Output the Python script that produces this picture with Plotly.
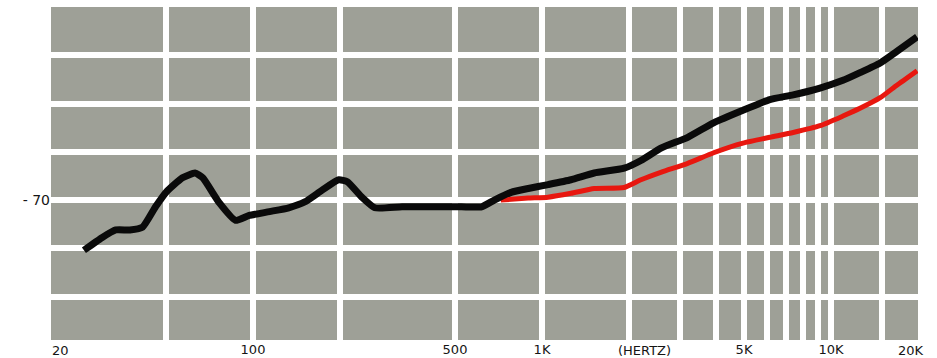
import plotly.graph_objects as go

# Black curve (frequency in Hz, level in dB)
black_freq = [26, 30, 33.5, 37.5, 41.5, 46, 50, 57, 63, 67, 76.5, 87, 97, 114, 133, 151, 173, 198, 212, 238, 264, 328, 426, 526, 618, 684, 782, 896, 1050, 1260, 1516, 1924, 2200, 2590, 3194, 3925, 4960, 6140, 7400, 9160, 11000, 12600, 14800, 16900, 19860]
black_db = [-75.2, -73.9, -73.1, -73.1, -72.8, -70.7, -69.2, -67.7, -67.2, -67.7, -70.3, -72.1, -71.6, -71.2, -70.8, -70.2, -69.0, -67.9, -68.1, -69.7, -70.8, -70.7, -70.7, -70.7, -70.7, -70.0, -69.2, -68.8, -68.4, -67.9, -67.2, -66.7, -65.9, -64.6, -63.5, -62.0, -60.7, -59.6, -59.1, -58.4, -57.6, -56.8, -55.8, -54.6, -53.1]

# Red curve
red_freq = [720, 896, 1050, 1260, 1516, 1924, 2200, 2590, 3194, 3925, 4960, 6140, 7400, 9160, 11000, 12600, 14800, 16900, 19860]
red_db = [-70.0, -69.8, -69.7, -69.3, -68.8, -68.7, -67.9, -67.1, -66.2, -65.1, -64.1, -63.5, -63.0, -62.3, -61.3, -60.5, -59.4, -58.1, -56.6]

# Axis grid / ticks (interior grid lines; edge labels added separately)
x_tickvals = [50, 100, 200, 500, 1000, 2000, 3000, 4000, 5000, 6000, 7000, 8000, 9000, 10000, 15000]
x_ticktext = ["", "100", "", "500", "1K", "", "", "", "5K", "", "", "", "", "10K", ""]
x_edge_labels = [("20", 0.0), ("20K", 1.0)]
y_tickvals = [-80, -75, -70, -65, -60, -55]
y_ticktext = ["", "", "- 70", "", "", ""]
unit_label = "(HERTZ)"

FONT = "DejaVu Sans, Verdana, sans-serif"
TXT = "#151515"

fig = go.Figure()
fig.add_trace(go.Scatter(x=red_freq, y=red_db, mode="lines",
                         line=dict(color="#e8170f", width=5, shape="spline", smoothing=0.5),
                         showlegend=False, hoverinfo="skip"))
fig.add_trace(go.Scatter(x=black_freq, y=black_db, mode="lines",
                         line=dict(color="#0a0a0a", width=7, shape="spline", smoothing=0.5),
                         showlegend=False, hoverinfo="skip"))

annotations = [dict(text=unit_label, xref="paper", yref="paper",
                    x=0.685, y=0, yshift=-10, yanchor="middle", xanchor="center",
                    showarrow=False, font=dict(family=FONT, size=13, color=TXT))]
for txt, px in x_edge_labels:
    annotations.append(dict(text=txt, xref="paper", yref="paper",
                            x=px, y=0, yshift=-10, xshift=(9 if px == 0 else -7),
                            yanchor="middle", xanchor="center", showarrow=False,
                            font=dict(family=FONT, size=13, color=TXT)))

fig.update_layout(
    width=937, height=358,
    margin=dict(l=51, r=19, t=7, b=18),
    paper_bgcolor="white",
    plot_bgcolor="#9ea097",
    font=dict(family=FONT, size=13, color=TXT),
    xaxis=dict(type="log", range=[1.30103, 4.30103], automargin=False,
               tickvals=x_tickvals, ticktext=x_ticktext,
               showgrid=True, gridcolor="white", gridwidth=6,
               zeroline=False, showline=False, ticks="", ticklen=0,
               tickfont=dict(family=FONT, size=13, color=TXT)),
    yaxis=dict(range=[-84.5, -50], automargin=False,
               tickvals=y_tickvals, ticktext=y_ticktext,
               showgrid=True, gridcolor="white", gridwidth=6,
               zeroline=False, showline=False, ticks="",
               tickfont=dict(family=FONT, size=14, color=TXT)),
    annotations=annotations,
)

fig.write_html("out.html",
               config={"displayModeBar": False},
               post_script="document.body.style.margin='0';document.body.style.overflow='hidden';")
